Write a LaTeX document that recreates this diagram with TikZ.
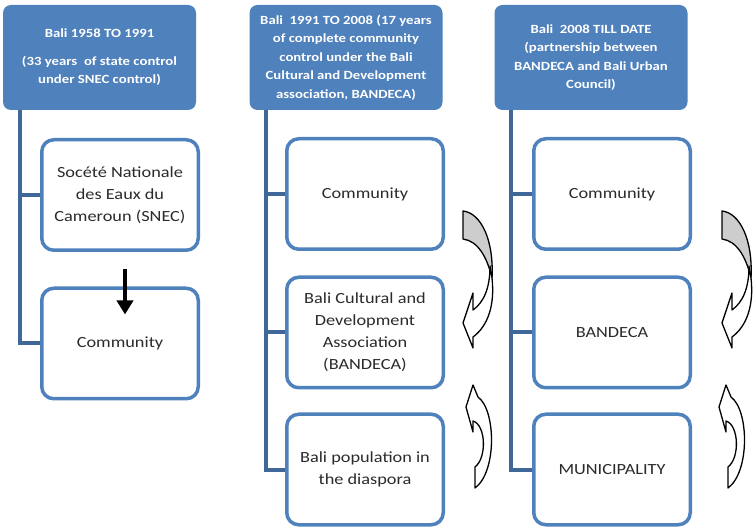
\documentclass[tikz,border=0pt]{standalone}
\usepackage{fontspec}
\setmainfont{Carlito}[FakeStretch=1.18]
\usetikzlibrary{arrows.meta}
\definecolor{hdrblue}{HTML}{4F81BD}
\definecolor{connblue}{HTML}{3F6797}
\definecolor{txtgray}{HTML}{2B2B2B}
\definecolor{backgray}{HTML}{CDCDCD}
\begin{document}
\begin{tikzpicture}[x=1pt,y=-1pt,
 hdr/.style={draw=none, fill=hdrblue, rounded corners=8pt, minimum width=193pt, minimum height=105pt, text=white, align=center, font=\fontsize{12.5}{18.5}\selectfont\bfseries, inner sep=0pt},
 child/.style={draw=hdrblue, line width=3.5pt, fill=white, rounded corners=12pt, minimum width=156.5pt, minimum height=110.5pt, text=txtgray, align=center, font=\fontsize{15.5}{22}\selectfont, inner sep=0pt},
 conn/.style={draw=connblue, line width=4pt},
 curvarrow/.style={draw=black, line width=1.3pt, line join=round},
 blackarrow/.style={draw=black, line width=3.5pt, -{Triangle[width=16pt,length=14pt]}}
]
\useasboundingbox (0,0) rectangle (753,529);

% headers
\node[hdr] (h1) at (99.5,57.5) {Bali 1958 TO 1991\\[9pt](33 years~ of state control\\under SNEC control)};
\node[hdr] (h2) at (346,57.5) {Bali~ 1991 TO 2008 (17 years\\of complete community\\control under the Bali\\Cultural and Development\\association, BANDECA)};
\node[hdr] (h3) at (591,57.5) {Bali~ 2008 TILL DATE\\(partnership between\\BANDECA and Bali Urban\\Council)};

% children
\node[child] (a1) at (120,195) {Socété Nationale\\des Eaux du\\Cameroun (SNEC)};
\node[child] (a2) at (120,343.5) {Community};
\node[child] (b1) at (365,194) {Community};
\node[child] (b2) at (365,332.5) {Bali Cultural and\\Development\\Association\\(BANDECA)};
\node[child] (b3) at (365,469.5) {Bali population in\\the diaspora};
\node[child] (c1) at (612,194) {Community};
\node[child] (c2) at (612,332.5) {BANDECA};
\node[child] (c3) at (612,469.5) {MUNICIPALITY};

% connectors
\draw[conn] ([xshift=17pt]h1.south west) |- (a1.west);
\draw[conn] ([xshift=17pt]h1.south west) |- (a2.west);
\draw[conn] ([xshift=17pt]h2.south west) |- (b1.west);
\draw[conn] ([xshift=17pt]h2.south west) |- (b2.west);
\draw[conn] ([xshift=17pt]h2.south west) |- (b3.west);
\draw[conn] ([xshift=17pt]h3.south west) |- (c1.west);
\draw[conn] ([xshift=17pt]h3.south west) |- (c2.west);
\draw[conn] ([xshift=17pt]h3.south west) |- (c3.west);

% black arrow column 1
\draw[blackarrow] ([xshift=5pt,yshift=-17.5pt]a1.south) -- ([xshift=5pt,yshift=-28pt]a2.north);

% curved arrows
\foreach \sx in {0,259}{
\begin{scope}[shift={(\sx,0)}]
 \filldraw[curvarrow, fill=backgray] (463,211) .. controls (481,213) and (494,240) .. (492,278) .. controls (487,257) and (478,241) .. (463,239) -- cycle;
 \filldraw[curvarrow, fill=white] (490,266) .. controls (490,288) and (484,302) .. (473,310) -- (473,293) -- (463,323) -- (473,348) -- (473,337) .. controls (488,326) and (495,305) .. (492,278) -- cycle;
\end{scope}}
\foreach \sx in {0,253}{
\begin{scope}[shift={(\sx,0)}]
 \filldraw[curvarrow, fill=white] (473,385) -- (466,407) -- (473,432) -- (473,421) .. controls (486,425) and (487,458) .. (475,467) -- (475,488) .. controls (497,472) and (496,410) .. (478,397) -- cycle;
\end{scope}}
\end{tikzpicture}
\end{document}
